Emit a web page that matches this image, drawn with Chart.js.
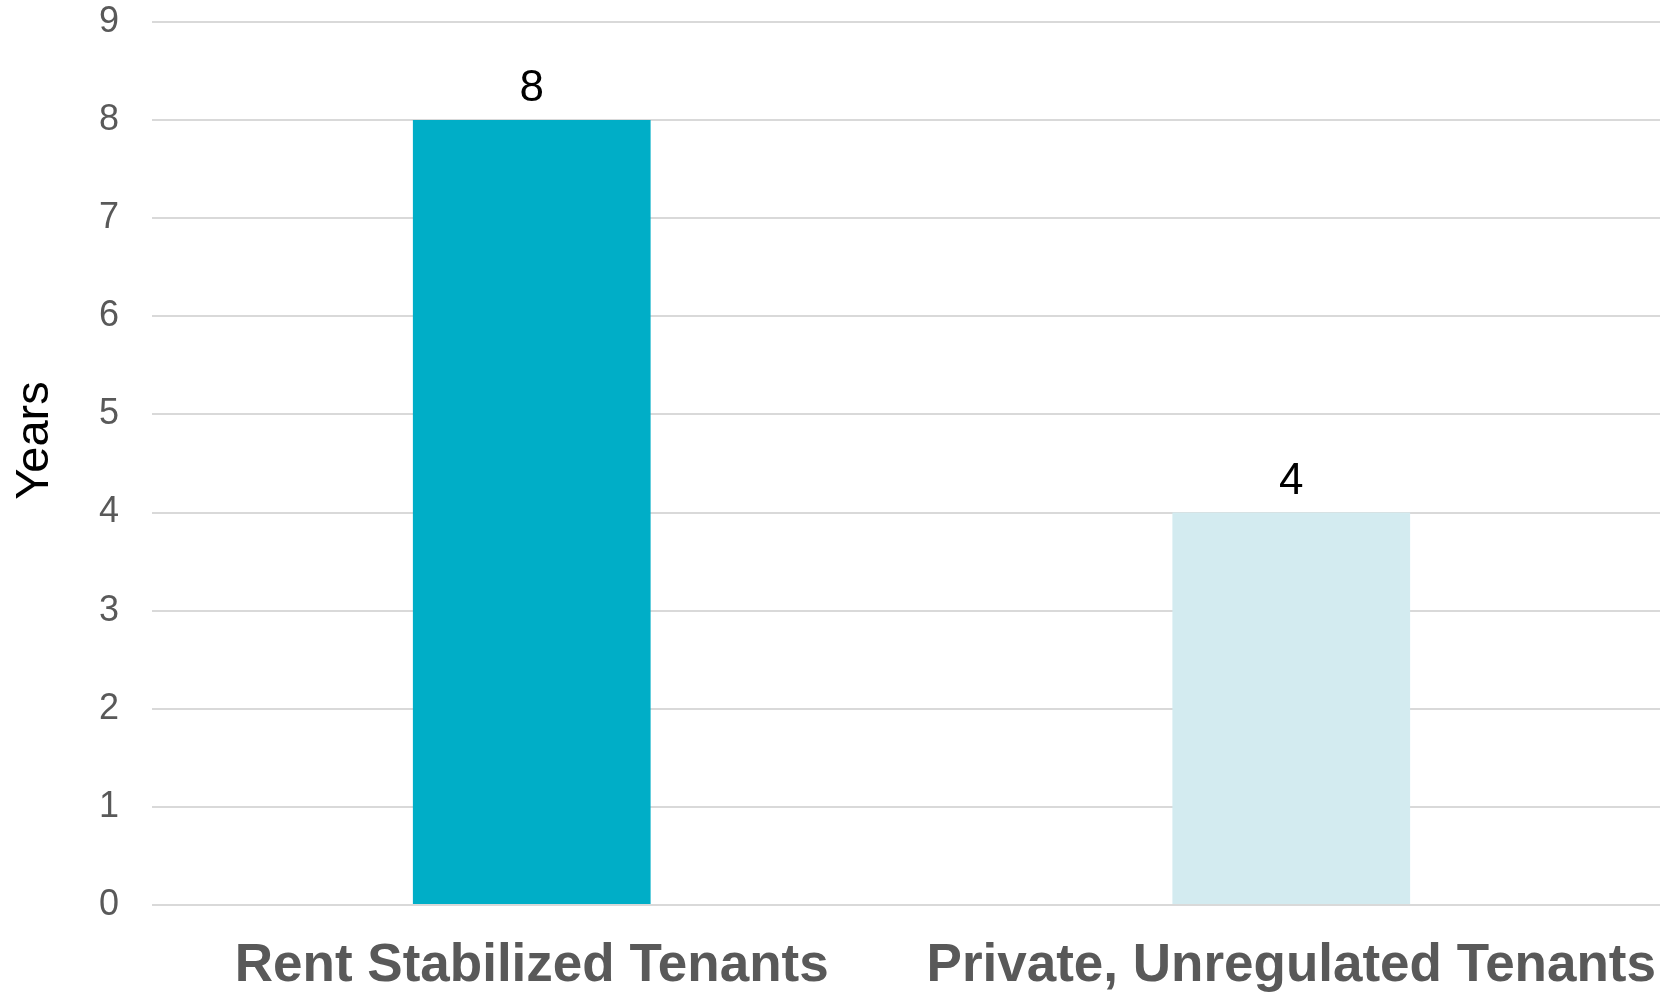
<!DOCTYPE html>
<html>
<head>
<meta charset="utf-8">
<script src="https://cdn.jsdelivr.net/npm/chart.js@4.4.1/dist/chart.umd.min.js"></script>
<style>
  html, body { margin: 0; padding: 0; background: #fff; overflow: hidden; }
  canvas { display: block; }
</style>
</head>
<body>
<!-- el area sigue un poco mas alla del borde derecho de la ventana -->
<canvas id="grafico" width="1671" height="995"></canvas>
<script>
// datos del grafico
const categorias = ['Rent Stabilized Tenants', 'Private, Unregulated Tenants'];
const anios = [8, 4];
const colores = ['#00AEC7', '#D3EBF0'];
const ticksY = [0, 1, 2, 3, 4, 5, 6, 7, 8, 9];
const tituloY = 'Years';

const fuente = "'Liberation Sans', Arial, sans-serif";

// etiquetas encima de cada barra y titulo del eje Y
const etiquetasValor = {
    id: 'etiquetasValor',
    afterDatasetsDraw(chart) {
        const ctx = chart.ctx;
        const meta = chart.getDatasetMeta(0);
        ctx.save();
        ctx.font = '44px ' + fuente;
        ctx.fillStyle = '#000000';
        ctx.textAlign = 'center';
        ctx.textBaseline = 'alphabetic';
        meta.data.forEach((barra, i) => {
            ctx.fillText(String(anios[i]), barra.x, barra.y - 19);
        });
        ctx.restore();
    },
    afterDraw(chart) {
        // el titulo va un poco por encima del centro del area
        const ctx = chart.ctx;
        const area = chart.chartArea;
        ctx.save();
        ctx.translate(35, (area.top + area.bottom) / 2 - 23);
        ctx.rotate(-Math.PI / 2);
        ctx.font = '47px ' + fuente;
        ctx.fillStyle = '#000000';
        ctx.textAlign = 'center';
        ctx.textBaseline = 'middle';
        ctx.fillText(tituloY, 0, 0);
        ctx.restore();
    }
};

const Grafico = document.getElementById('grafico').getContext('2d');

window.graficaAnios = new Chart(Grafico, {
    type: 'bar',
    data: {
        labels: categorias,
        datasets: [{
            data: anios,
            backgroundColor: colores,
            categoryPercentage: 1,
            barPercentage: 0.313
        }]
    },
    options: {
        responsive: false,
        animation: false,
        devicePixelRatio: 1,
        layout: { padding: { top: 22, left: 0, right: 0, bottom: 0 } },
        plugins: {
            legend: { display: false },
            tooltip: { enabled: false }
        },
        scales: {
            x: {
                grid: { display: false, drawTicks: false },
                border: { display: false },
                ticks: {
                    color: '#595959',
                    font: { family: fuente, size: 53, weight: 'bold' },
                    padding: 30,
                    maxRotation: 0,
                    autoSkip: false
                },
                afterFit(scale) {
                    scale.height = 90;
                    scale.paddingLeft = 0;
                    scale.paddingRight = 0;
                }
            },
            y: {
                min: 0,
                max: ticksY[ticksY.length - 1],
                afterBuildTicks(scale) {
                    scale.ticks = ticksY.map(v => ({ value: v }));
                },
                grid: { color: '#D9D9D9', lineWidth: 2, drawTicks: false },
                border: { display: false },
                ticks: {
                    color: '#595959',
                    font: { family: fuente, size: 36 },
                    padding: 33
                },
                afterFit(scale) {
                    scale.width = 152;
                    scale.paddingTop = 0;
                    scale.paddingBottom = 0;
                }
            }
        }
    },
    plugins: [etiquetasValor]
});
</script>
</body>
</html>
